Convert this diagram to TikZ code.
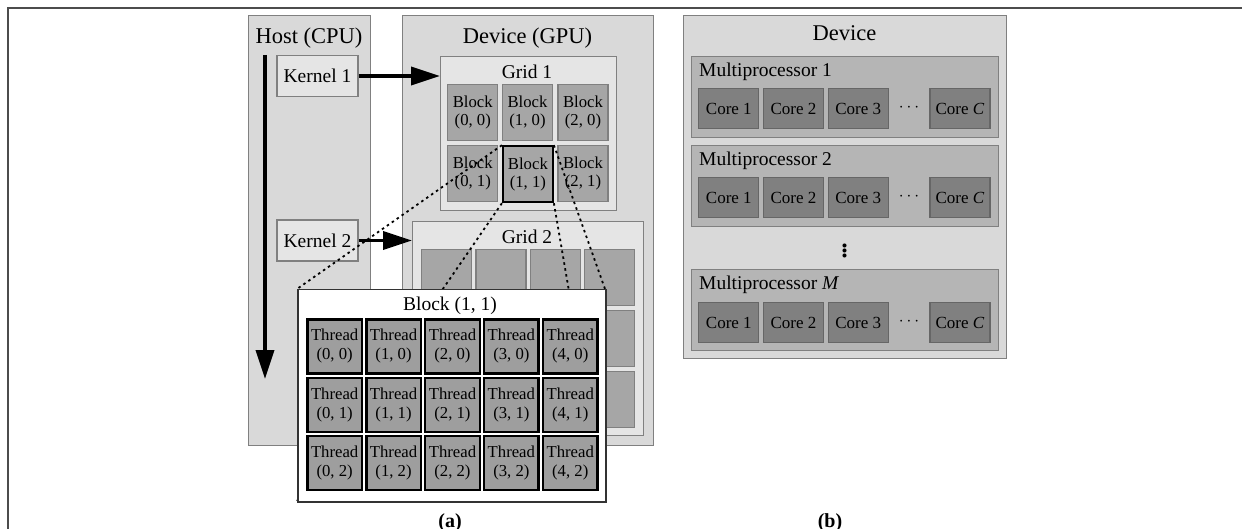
\documentclass[tikz,border=0pt]{standalone}
\usepackage{fontspec}
\setmainfont{Liberation Serif}
\usetikzlibrary{positioning,arrows.meta}

\begin{document}
\begin{tikzpicture}[x=1pt,y=-1pt,
			panel/.style={draw=black!50,fill=black!15,line width=1.2pt,anchor=north west,inner sep=0pt},
			gridbox/.style={draw=black!50,fill=black!10,line width=1.2pt,anchor=north west,inner sep=0pt},
			kernel/.style={draw=black!50,fill=black!10,line width=1.2pt,minimum width=81pt,minimum height=41pt,inner sep=0pt,font=\fontsize{19.5}{23}\selectfont},
			title/.style={inner sep=0pt,font=\fontsize{22.5}{27}\selectfont},
			sub/.style={inner sep=0pt,font=\fontsize{19.5}{23}\selectfont},
			blockcell/.style={draw=black!50,fill=black!35,line width=1.2pt,minimum width=50pt,minimum height=56pt,inner sep=0pt,align=center,font=\fontsize{16.7}{18}\selectfont},
			threadcell/.style={draw=black,fill=black!38,line width=2.4pt,minimum width=54.5pt,minimum height=54pt,inner sep=0pt,align=center,font=\fontsize{16.7}{19}\selectfont},
			zoomed/.style={draw=black!80,fill=white,line width=1.5pt,anchor=north west,inner sep=0pt},
			mpbox/.style={draw=black!50,fill=black!29,line width=1.2pt,anchor=north west,inner sep=0pt,minimum width=307pt,minimum height=81pt},
			corecell/.style={draw=black!60,fill=black!50,line width=1.2pt,minimum width=60pt,minimum height=40pt,inner sep=0pt,font=\fontsize{17}{18}\selectfont},
			dotcell/.style={minimum width=33.5pt,minimum height=41.2pt,inner sep=0pt,text height=0.5em,text depth=0pt,font=\fontsize{17}{18}\selectfont},
			kernelarrow/.style={line width=3.8pt,-{Triangle[length=29pt,width=18pt]}},
			zoomline/.style={line width=1.8pt,dash pattern=on 2.5pt off 3.5pt},
			caption/.style={inner sep=0pt,font=\fontsize{20}{24}\selectfont\bfseries}]
			\useasboundingbox (0,0) rectangle (1242,529);
			\draw[black!70,line width=1.5pt] (8,529) -- (8,8) -- (1242,8);

			% (a) host and device
			\node (host) [panel,minimum width=122pt,minimum height=430pt] at (248,15) {};
			\node (gpu) [panel,minimum width=251pt,minimum height=430pt] at (402,15) {};
			\node (hostlbl) [title] at (309,38) {Host (CPU)};
			\node (gpulbl) [title] at (527.5,38) {Device (GPU)};
			\node (k1) [kernel] at (317.5,76) {Kernel 1};
			\node (k2) [kernel] at (317.5,240.5) {Kernel 2};

			\node (grid1) [gridbox,minimum width=176pt,minimum height=154pt] at (440,56) {};
			\node (grid1lbl) [sub] at (527,72) {Grid 1};
			\matrix (blocks1) [anchor=north west,inner sep=0pt,row sep=3.8pt,column sep=3.5pt] at (447,84) {
				\node (b00) [blockcell] {Block\\(0, 0)}; &
				\node (b10) [blockcell] {Block\\(1, 0)}; &
				\node (b20) [blockcell] {Block\\(2, 0)}; \\
				\node (b01) [blockcell] {Block\\(0, 1)}; &
				\node (b11) [blockcell,draw=black,line width=2pt] {Block\\(1, 1)}; &
				\node (b21) [blockcell] {Block\\(2, 1)}; \\
			};

			\node (grid2) [gridbox,minimum width=231pt,minimum height=214pt] at (412,221) {};
			\node (grid2lbl) [sub] at (527,237) {Grid 2};
			\matrix (blocks2) [anchor=north west,inner sep=0pt,row sep=3.8pt,column sep=3pt] at (421,249) {
				\node (g00) [blockcell] {}; & \node (g10) [blockcell] {}; & \node (g20) [blockcell] {}; & \node (g30) [blockcell] {}; \\
				\node (g01) [blockcell] {}; & \node (g11) [blockcell] {}; & \node (g21) [blockcell] {}; & \node (g31) [blockcell] {}; \\
				\node (g02) [blockcell] {}; & \node (g12) [blockcell] {}; & \node (g22) [blockcell] {}; & \node (g32) [blockcell] {}; \\
			};

			\coordinate (tstart) at (265,55);
			\coordinate (tend) at (265,379);
			\draw[kernelarrow] (tstart) -- (tend);
			\draw[kernelarrow] (k1.east) -- (grid1.west |- k1.east);
			\draw[kernelarrow] (k2.east) -- (grid2.west |- k2.east);

			% zoom on block (1, 1)
			\coordinate (zoomnw) at (297,289);
			\coordinate (zoomne) at (605,289);
			\coordinate (zoomsw) at (297,501);
			\coordinate (zoomse) at (605,501);
			\draw[zoomline] (b11.north west) -- (zoomnw);
			\draw[zoomline] (b11.north east) -- (zoomne);
			\draw[zoomline] (b11.south west) -- (zoomsw);
			\draw[zoomline] (b11.south east) -- (zoomse);
			\node (blk) [zoomed,minimum width=308pt,minimum height=212pt] at (zoomnw) {};
			\node (blklbl) [sub] at (450,305.5) {Block (1, 1)};
			\matrix (threads) [anchor=north west,inner sep=0pt,row sep=2pt,column sep=2pt] at (306,318) {
				\node (t00) [threadcell] {Thread\\(0, 0)}; &
				\node (t10) [threadcell] {Thread\\(1, 0)}; &
				\node (t20) [threadcell] {Thread\\(2, 0)}; &
				\node (t30) [threadcell] {Thread\\(3, 0)}; &
				\node (t40) [threadcell] {Thread\\(4, 0)}; \\
				\node (t01) [threadcell] {Thread\\(0, 1)}; &
				\node (t11) [threadcell] {Thread\\(1, 1)}; &
				\node (t21) [threadcell] {Thread\\(2, 1)}; &
				\node (t31) [threadcell] {Thread\\(3, 1)}; &
				\node (t41) [threadcell] {Thread\\(4, 1)}; \\
				\node (t02) [threadcell] {Thread\\(0, 2)}; &
				\node (t12) [threadcell] {Thread\\(1, 2)}; &
				\node (t22) [threadcell] {Thread\\(2, 2)}; &
				\node (t32) [threadcell] {Thread\\(3, 2)}; &
				\node (t42) [threadcell] {Thread\\(4, 2)}; \\
			};

			% (b) device
			\node (dev) [panel,minimum width=323pt,minimum height=343pt] at (683,15) {};
			\node (devlbl) [title] at (844.5,33.5) {Device};

			\node (mp1) [mpbox] at (691,56) {};
			\node (mp1lbl) [sub,anchor=west] at (699,72) {Multiprocessor 1};
			\matrix (cores1) [anchor=north west,inner sep=0pt,column sep=3.5pt] at (698,88) {
				\node (c11) [corecell] {Core 1}; & \node (c12) [corecell] {Core 2}; & \node (c13) [corecell] {Core 3}; &
				\node (c1d) [dotcell] {$\cdots$}; & \node (c1c) [corecell] {Core \textit{C}}; \\
			};

			\node (mp2) [mpbox] at (691,145) {};
			\node (mp2lbl) [sub,anchor=west] at (699,161) {Multiprocessor 2};
			\matrix (cores2) [anchor=north west,inner sep=0pt,column sep=3.5pt] at (698,177) {
				\node (c21) [corecell] {Core 1}; & \node (c22) [corecell] {Core 2}; & \node (c23) [corecell] {Core 3}; &
				\node (c2d) [dotcell] {$\cdots$}; & \node (c2c) [corecell] {Core \textit{C}}; \\
			};

			\node (mpdots) [inner sep=0pt,font=\fontsize{34}{40}\selectfont] at (844.5,247.5) {$\vdots$};

			\node (mpm) [mpbox] at (691,269) {};
			\node (mpmlbl) [sub,anchor=west] at (699,285) {Multiprocessor \textit{M}};
			\matrix (coresm) [anchor=north west,inner sep=0pt,column sep=3.5pt] at (698,302) {
				\node (cm1) [corecell] {Core 1}; & \node (cm2) [corecell] {Core 2}; & \node (cm3) [corecell] {Core 3}; &
				\node (cmd) [dotcell] {$\cdots$}; & \node (cmc) [corecell] {Core \textit{C}}; \\
			};

			\node (capa) [caption] at (450,523) {(a)};
			\node (capb) [caption] at (830,523) {(b)};
		\end{tikzpicture}
\end{document}
